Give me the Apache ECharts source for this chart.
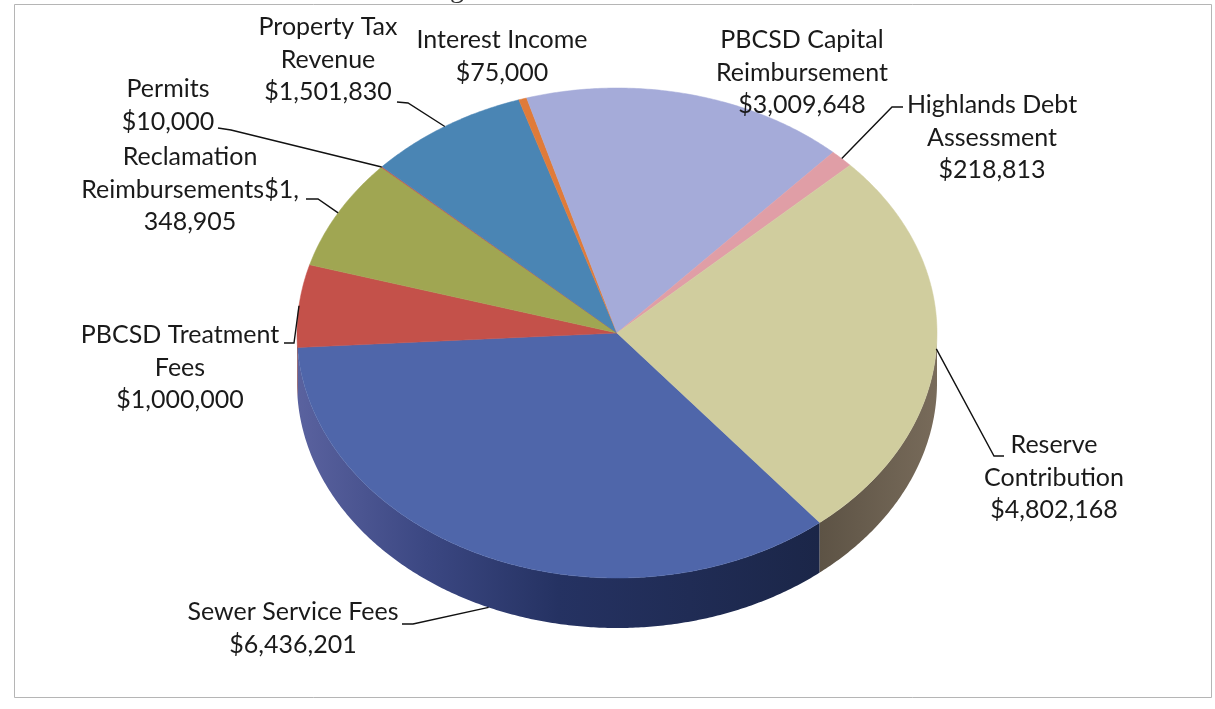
<!DOCTYPE html>
<html>
<head>
<meta charset="utf-8">
<script src="https://cdn.jsdelivr.net/npm/echarts@6/dist/echarts.min.js"></script>
<style>
  html, body { margin: 0; padding: 0; background: #ffffff; }
  #chart { width: 1215px; height: 709px; }
</style>
</head>
<body>
<div id="chart"></div>
<script>
// Revenue sources, in the order they run clockwise around the pie
const categories = [
  'Sewer Service Fees', 'PBCSD Treatment Fees', 'Reclamation Reimbursements',
  'Permits', 'Property Tax Revenue', 'Interest Income',
  'PBCSD Capital Reimbursement', 'Highlands Debt Assessment', 'Reserve Contribution'
];
const values = [6436201, 1000000, 1348905, 10000, 1501830, 75000, 3009648, 218813, 4802168];

// How each category name wraps in its label
const nameLines = [
  ['Sewer Service Fees'], ['PBCSD Treatment', 'Fees'], ['Reclamation', 'Reimbursements'],
  ['Permits'], ['Property Tax', 'Revenue'], ['Interest Income'],
  ['PBCSD Capital', 'Reimbursement'], ['Highlands Debt', 'Assessment'], ['Reserve', 'Contribution']
];

// Pie geometry (a tilted disc: ellipse top face plus a visible front wall)
const PIE = { cx: 617, cy: 333, rx: 320, ry: 245, depth: 50, startDeg: 140.7 };

// Slice styling
const topColors = ['#4f66aa', '#c4514a', '#a0a652', '#c0504d', '#4a85b4', '#e07b39', '#a5abd9', '#e09ea6', '#d0cd9e'];
const wallStops = [
  [[0, '#5a629f'], [0.25, '#3b4782'], [0.5, '#253262'], [1, '#1b2648']],
  [[0, '#8e3d37'], [1, '#7a322d']],
  [[0, '#6b6f35'], [1, '#5c602d']],
  [[0, '#8e3d37'], [1, '#7a322d']],
  [[0, '#2f5878'], [1, '#284c68']],
  [[0, '#9c5225'], [1, '#8a4820']],
  [[0, '#6c7198'], [1, '#5e6288']],
  [[0, '#9c6a70'], [1, '#8a5e63']],
  [[0, '#5d5345'], [1, '#786b5a']]
];

// Label placement: centre x, centre y of first line, leader start points (null = no leader)
const labelPos = [
  { x: 293, y: 612, lead: [[402, 624], [413, 624]], onWall: true },
  { x: 180, y: 335, lead: [[284, 343], [294, 343]] },
  { x: 190, y: 157, lead: [[306, 199], [318, 199]] },
  { x: 168, y: 89,  lead: [[218, 128], [231, 130]] },
  { x: 328, y: 27,  lead: [[397, 102], [408, 103]] },
  { x: 502, y: 40,  lead: null },
  { x: 802, y: 40,  lead: null },
  { x: 992, y: 105, lead: [[903, 107], [892, 107]] },
  { x: 1054, y: 445, lead: [[1004, 456], [994, 456]] }
];

function money(v) { return '$' + v.toLocaleString('en-US'); }
function labelText(i) {
  const m = money(values[i]);
  if (i === 2) {
    // the long name runs into the amount and wraps inside it
    return nameLines[i][0] + '\n' + nameLines[i][1] + m.slice(0, 3) + '\n' + m.slice(3);
  }
  return nameLines[i].concat(m).join('\n');
}

const total = values.reduce((a, b) => a + b, 0);
const spans = [];
(function () {
  let acc = PIE.startDeg;
  values.forEach(v => { const s = acc; acc += v / total * 360; spans.push([s, acc]); });
})();

// angle in degrees, clockwise from 12 o'clock
function pt(deg, dy) {
  const r = deg * Math.PI / 180;
  return [PIE.cx + PIE.rx * Math.sin(r), PIE.cy - PIE.ry * Math.cos(r) + (dy || 0)];
}
function arc(a, b, dy) {
  const n = Math.max(2, Math.ceil(Math.abs(b - a) / 0.5));
  const out = [];
  for (let k = 0; k <= n; k++) out.push(pt(a + (b - a) * k / n, dy));
  return out;
}

function renderSlice(params, api) {
  const i = params.dataIndex;
  const [a, b] = spans[i];
  const children = [];

  // front wall: the part of the slice whose rim faces the viewer (90..270 deg)
  [[90, 270], [450, 630]].forEach(([lo, hi]) => {
    const s = Math.max(a, lo), e = Math.min(b, hi);
    if (e - s > 0.01) {
      const top = arc(s, e, 0);
      const bot = arc(e, s, PIE.depth);
      const xs = top.map(p => p[0]);
      const x0 = Math.min.apply(null, xs), x1 = Math.max.apply(null, xs);
      children.push({
        type: 'polygon',
        shape: { points: top.concat(bot) },
        style: {
          fill: new echarts.graphic.LinearGradient(x0, 0, Math.max(x1, x0 + 1), 0,
            wallStops[i].map(([o, c]) => ({ offset: o, color: c })), true),
          stroke: null
        }
      });
    }
  });

  // top face
  children.push({
    type: 'polygon',
    shape: { points: [[PIE.cx, PIE.cy]].concat(arc(a, b, 0)) },
    style: { fill: topColors[i], stroke: topColors[i], lineWidth: 0.5 }
  });

  // label and leader
  const lp = labelPos[i];
  const lh = 32.5;
  children.push({
    type: 'text',
    style: {
      text: labelText(i),
      x: lp.x, y: lp.y - lh / 2,
      align: 'center', verticalAlign: 'top',
      fontFamily: 'Lato', fontSize: 25, lineHeight: lh,
      fill: '#1a1a1a'
    }
  });
  if (lp.lead) {
    const mid = (a + b) / 2;
    const end = pt(mid, lp.onWall ? PIE.depth : 0);
    children.push({
      type: 'polyline',
      shape: { points: lp.lead.concat([end]) },
      style: { stroke: '#111111', lineWidth: 1.4, fill: null }
    });
  }
  return { type: 'group', children: children };
}

const chart = echarts.init(document.getElementById('chart'), null, { renderer: 'canvas' });
chart.setOption({
  backgroundColor: '#ffffff',
  animation: false,
  graphic: [
    {
      type: 'text', z: 0,
      style: {
        text: 'Total Funding $18.4 million', x: 622, y: 4,
        align: 'right', verticalAlign: 'bottom',
        fontFamily: 'Liberation Serif', fontSize: 28, fill: '#333333'
      }
    },
    {
      type: 'rect', z: 1,
      shape: { x: 14.5, y: 4.5, width: 1197, height: 693 },
      style: { fill: null, stroke: '#b5b5b5', lineWidth: 1 }
    }
  ],
  series: [{
    type: 'custom',
    name: 'Revenue',
    coordinateSystem: 'none',
    data: values.map((v, i) => ({ name: categories[i], value: v })),
    renderItem: renderSlice
  }]
});
</script>
</body>
</html>
